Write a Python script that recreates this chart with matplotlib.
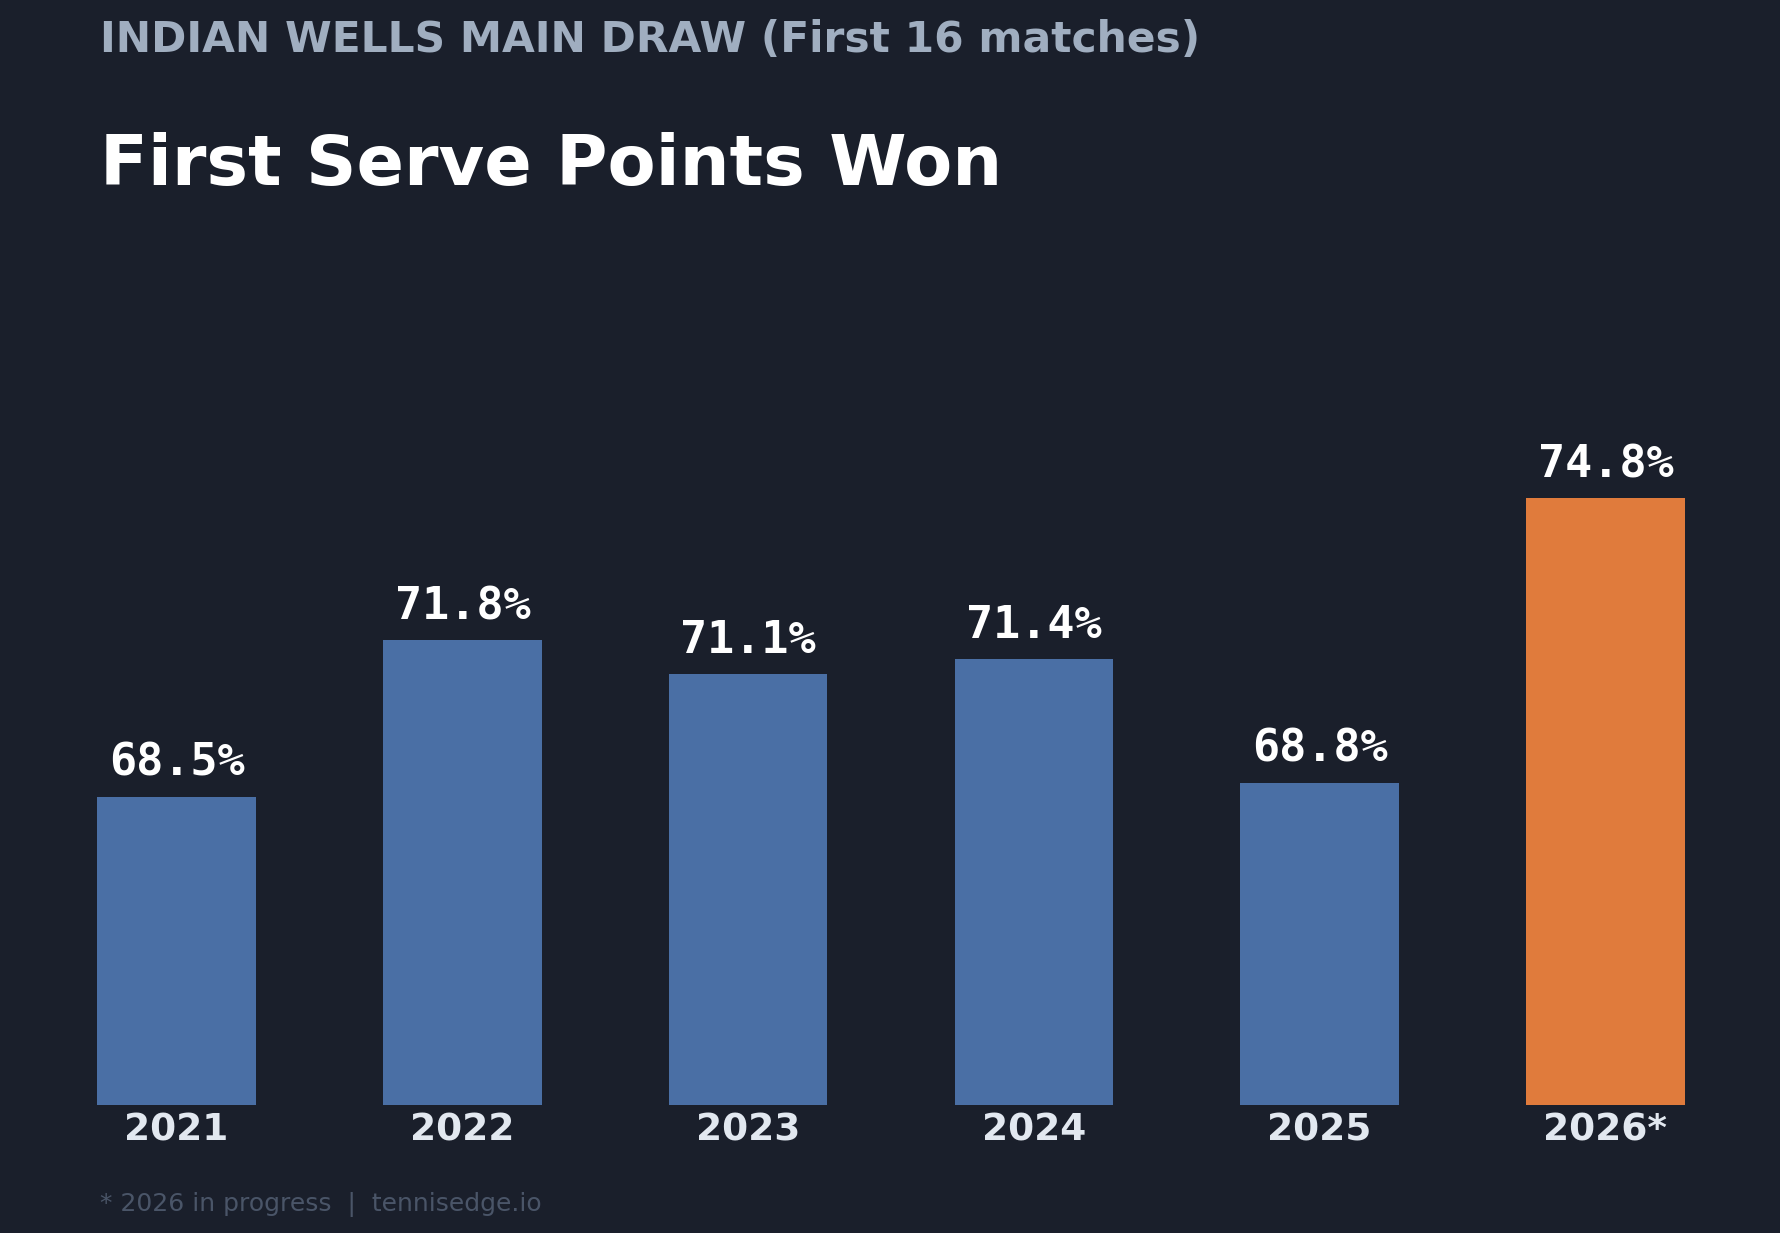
import matplotlib
matplotlib.use("Agg")
import matplotlib.pyplot as plt

years = ["2021", "2022", "2023", "2024", "2025", "2026*"]
values = [68.5, 71.8, 71.1, 71.4, 68.8, 74.8]
bar_colors = ["#4a6fa5", "#4a6fa5", "#4a6fa5", "#4a6fa5", "#4a6fa5", "#e07b3c"]

BG = "#1a1f2b"
W, H = 1781, 1233
fig = plt.figure(figsize=(W / 100, H / 100), dpi=100, facecolor=BG)

ax = fig.add_axes([19.5 / W, 1 - 1105 / H, 1743 / W, 16 * 47.4 / H])
ax.set_facecolor(BG)
x = range(len(years))
bars = ax.bar(x, values, width=0.555, color=bar_colors, zorder=2)
ax.set_ylim(62, 78)
ax.set_xlim(-0.55, 5.55)
for s in ax.spines.values():
    s.set_visible(False)
ax.set_yticks([])
ax.set_xticks(list(x))
ax.set_xticklabels(years, fontsize=27, fontweight="bold", color="#e2e8f0")
ax.tick_params(axis="x", length=0, pad=5.5)

for xi, v in zip(x, values):
    ax.annotate(f"{v:.1f}%", xy=(xi, v), xytext=(0, 21), textcoords="offset pixels",
                ha="center", va="baseline", fontsize=32.5, fontweight="bold",
                family="DejaVu Sans Mono", color="#ffffff")

fig.text(100 / W, 1 - 52 / H, "INDIAN WELLS MAIN DRAW (First 16 matches)",
         fontsize=30.5, fontweight="bold", color="#a0aec0", ha="left", va="baseline")
fig.text(100 / W, 1 - 185 / H, "First Serve Points Won",
         fontsize=50.5, fontweight="bold", color="#ffffff", ha="left", va="baseline")
fig.text(100 / W, 1 - 1211 / H, "* 2026 in progress  |  tennisedge.io",
         fontsize=18, color="#4a5568", ha="left", va="baseline")

fig.savefig("out.png", dpi=100, facecolor=BG)
